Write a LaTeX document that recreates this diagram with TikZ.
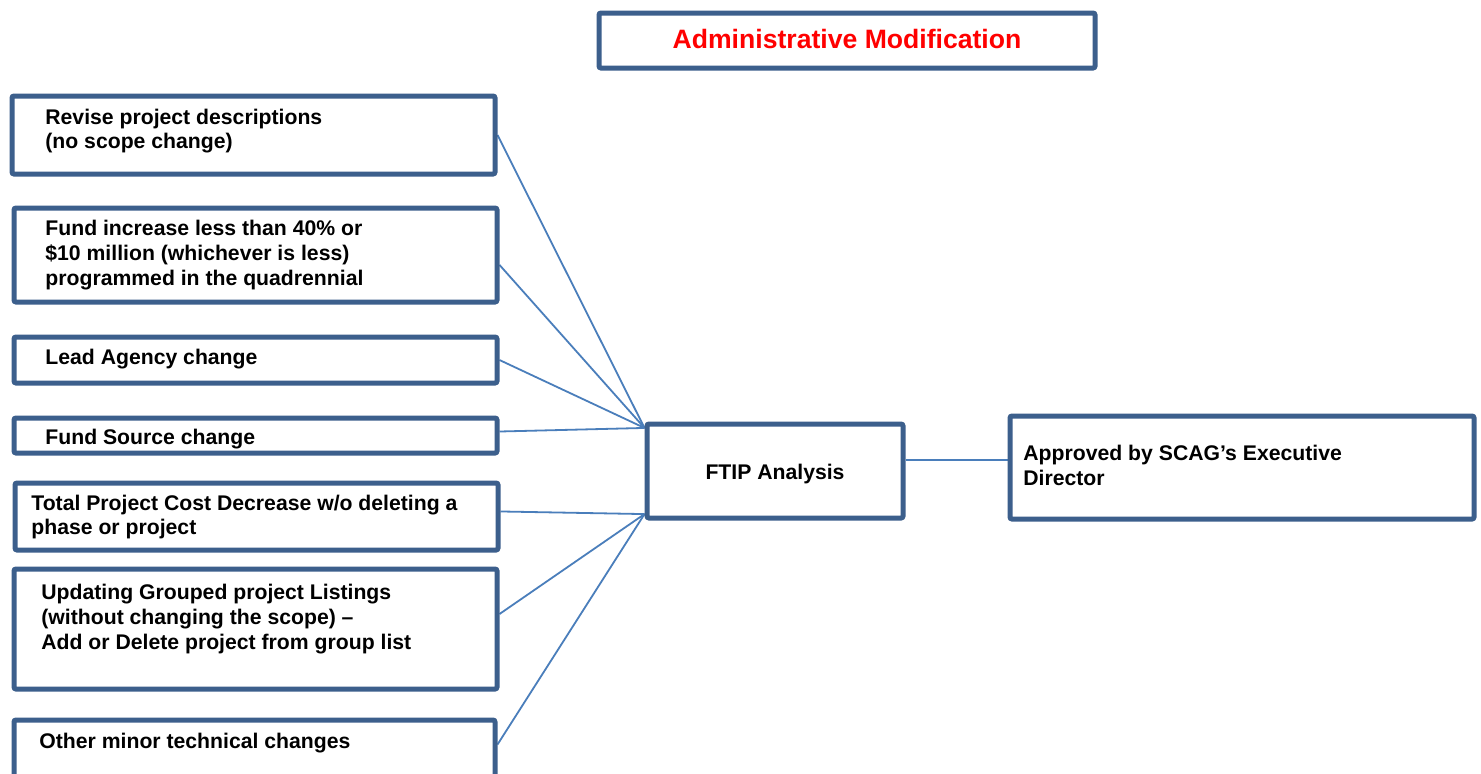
\documentclass[tikz,border=0pt]{standalone}
\usepackage{fontspec}
\setmainfont{Liberation Sans}
\usetikzlibrary{calc,fit,positioning,backgrounds}
\definecolor{boxblue}{RGB}{60,95,140}
\definecolor{linkblue}{RGB}{74,126,187}
\tikzset{
  box/.style={draw=boxblue, line width=2.5pt, inner sep=0pt, fill=white, rounded corners=1pt},
  txt/.style={anchor=west, inner sep=0pt, align=left, font=\bfseries\fontsize{10.6}{12.3}\selectfont},
  ttl/.style={inner sep=0pt, text=red, font=\bfseries\fontsize{13.3}{15}\selectfont},
  link/.style={draw=linkblue, line width=0.9pt},
}

\begin{document}
\begin{tikzpicture}[x=0.5pt, y=-0.5pt]
  \useasboundingbox (0,0) rectangle (1481,773);
  \clip (0,0) rectangle (1481,773);

  %% title
  \node[box, fit={(599,13) (1095,68)}] (title) {};
  \node[ttl] (titlet) at ($(title.center)+(0,-2)$) {Administrative Modification};

  %% change types (left column)
  \node[box, fit={(12,96) (495,174)}] (rev) {};
  \node[box, fit={(14,208) (497,302)}] (fundinc) {};
  \node[box, fit={(14,337) (497,383)}] (lead) {};
  \node[box, fit={(14,418) (497,453)}] (fundsrc) {};
  \node[box, fit={(15,483) (498,550)}] (cost) {};
  \node[box, fit={(14,569) (497,689)}] (grouped) {};
  \node[box, fit={(14,720) (495,800)}] (other) {};

  \node[txt] (revt) at (45,131) {Revise project descriptions\\(no scope change)};
  \node[txt] (fundinct) at (45,255) {Fund increase less than 40\% or\\\$10 million (whichever is less)\\programmed in the quadrennial};
  \node[txt] (leadt) at (45,359) {Lead Agency change};
  \node[txt] (fundsrct) at (45,439) {Fund Source change};
  \node[txt] (costt) at (31,517) {Total Project Cost Decrease w/o deleting a\\phase or project};
  \node[txt] (groupedt) at (41,619) {Updating Grouped project Listings\\(without changing the scope) –\\Add or Delete project from group list};
  \node[txt] (othert) at (39,743) {Other minor technical changes};

  %% analysis and approval
  \node[box, fit={(647,424) (903,518)}] (ftip) {};
  \node[txt, anchor=center] (ftipt) at ($(ftip.center)+(0,3)$) {FTIP Analysis};
  \node[box, fit={(1010,416) (1474,519)}] (appr) {};
  \node[txt] (apprt) at (1023,465.5) {Approved by SCAG’s Executive\\Director};

  % connectors
  \coordinate (ftipA) at ($(ftip.north west)!0.065!(ftip.south west)$);
  \coordinate (ftipB) at ($(ftip.north west)!0.935!(ftip.south west)$);
  \coordinate (ftipR) at ($(ftip.north east)!0.39!(ftip.south east)$);
  \begin{scope}[on background layer]
    \fill[white] (0,0) rectangle (1481,773);
    \draw[link] (rev.east) -- (ftipA);
    \draw[link] ($(fundinc.north east)!0.6!(fundinc.south east)$) -- (ftipA);
    \draw[link] (lead.east) -- (ftipA);
    \draw[link] ($(fundsrc.north east)!0.4!(fundsrc.south east)$) -- (ftipA);
    \draw[link] ($(cost.north east)!0.43!(cost.south east)$) -- (ftipB);
    \draw[link] ($(grouped.north east)!0.38!(grouped.south east)$) -- (ftipB);
    \draw[link] ($(other.north east)+(0,27)$) -- (ftipB);
    \draw[link] (ftipR) -- (ftipR -| appr.west);
  \end{scope}
\end{tikzpicture}
\end{document}
